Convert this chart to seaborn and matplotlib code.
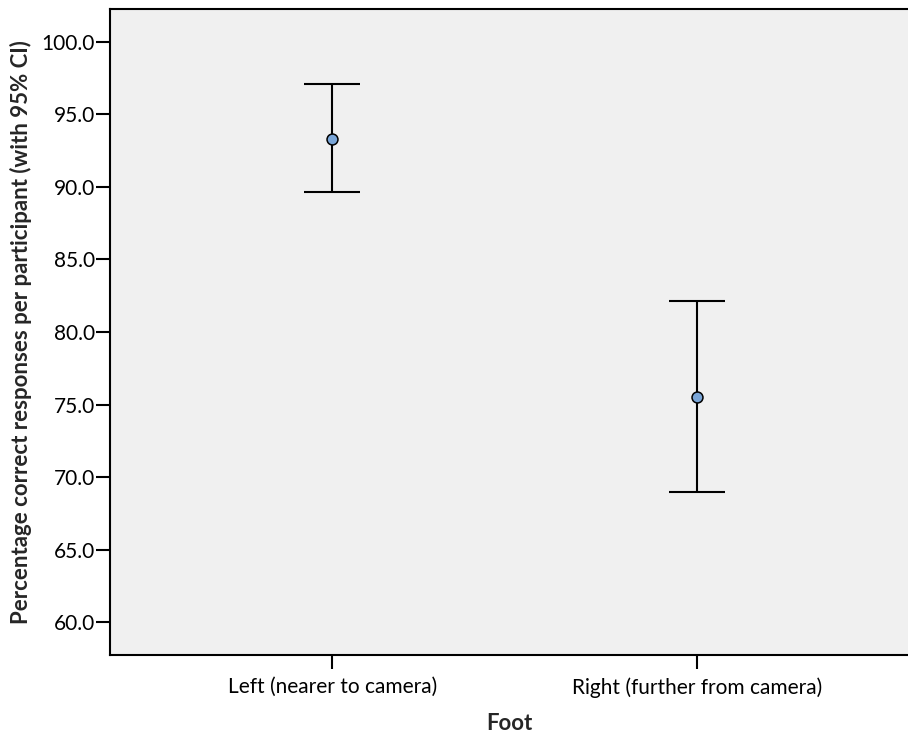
import matplotlib
matplotlib.use("Agg")
import matplotlib.pyplot as plt
import seaborn as sns
import pandas as pd
from matplotlib.ticker import FormatStrFormatter

categories = ["Left (nearer to camera)", "Right (further from camera)"]
means = [93.32, 75.55]
ci_low = [89.63, 68.99]
ci_high = [97.07, 82.14]
yticks = [60, 65, 70, 75, 80, 85, 90, 95, 100]

sns.set_theme(style="ticks")
plt.rcParams['font.family'] = ['Lato', 'DejaVu Sans']

df = pd.DataFrame({"Foot": categories, "mean": means, "lo": ci_low, "hi": ci_high})

fig = plt.figure(figsize=(9.08, 7.33), dpi=100)
ax = fig.add_axes([110/908, 1 - 654.7/733, 1 - 110/908, (654.7 - 9.3)/733])
ax.set_facecolor("#f0f0f0")

xpos = list(range(len(categories)))
yerr = [[m - l for m, l in zip(means, ci_low)], [h - m for m, h in zip(means, ci_high)]]
ax.errorbar(xpos, means, yerr=yerr, fmt="none", ecolor="black", elinewidth=1.5,
            capsize=20.5, capthick=1.5, zorder=2)
sns.scatterplot(x=xpos, y=df["mean"], ax=ax, s=62, color="#7aa6d8",
                edgecolor="black", linewidth=1.1, zorder=3, legend=False)

ax.set_xlim(-0.61, 1.58)
ax.set_ylim(57.77, 102.23)
ax.set_yticks(yticks)
ax.yaxis.set_major_formatter(FormatStrFormatter("%.1f"))
ax.set_xticks(xpos)
ax.set_xticklabels(categories)
ax.tick_params(axis="both", direction="out", length=10, width=1.5, color="black",
               labelsize=15, labelcolor="black")
ax.tick_params(axis="y", pad=1)
ax.tick_params(axis="x", pad=6)
for side in ["left", "bottom", "top"]:
    ax.spines[side].set_color("black")
    ax.spines[side].set_linewidth(1.5)
ax.spines["right"].set_visible(False)

ax.set_xlabel("Foot", fontsize=16, fontweight="bold", labelpad=11)
ax.set_ylabel("Percentage correct responses per participant (with 95% CI)",
              fontsize=16, fontweight="bold", labelpad=7)

fig.savefig("out.png", dpi=100)
